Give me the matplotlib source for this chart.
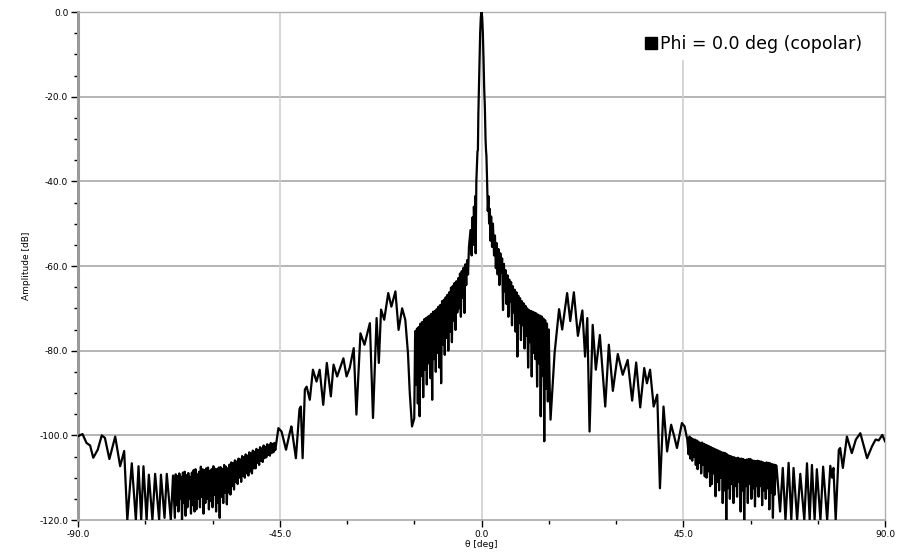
import numpy as np
import matplotlib
matplotlib.use("Agg")
import matplotlib.pyplot as plt
from matplotlib.lines import Line2D
from matplotlib.patches import Rectangle
from matplotlib.ticker import MultipleLocator, FormatStrFormatter

# far sidelobes, theta < -68 deg
theta_far_left = [-90.0, -89.8, -89.0, -88.1, -87.3, -86.6, -85.6, -84.7, -84.0, -83.0,
                  -81.7, -80.6, -79.7, -79.0, -78.0, -77.1, -76.5, -75.9, -75.4, -74.7,
                  -74.2, -73.4, -72.8, -71.9, -71.5, -70.7, -70.2, -69.3, -68.8]
amp_far_left = [-100.2, -100.1, -99.7, -101.8, -102.4, -105.3, -103.4, -100.0, -100.6, -105.6,
                -100.3, -107.3, -103.7, -120.0, -106.6, -120.0, -107.3, -120.0, -107.3, -120.0,
                -109.3, -120.0, -109.1, -120.0, -109.3, -119.5, -109.1, -120.0, -109.5]

# dense ripple, -68.4 .. -46.0 deg in 0.2 deg steps
amp_dense_left = [
    -119.5, -109.2, -116.5, -109.6, -118.0, -109.0, -115.0, -109.8, -120.0, -108.8,
    -116.0, -108.6, -119.0, -109.4, -117.0, -108.9, -115.0, -109.8, -118.5, -108.8,
    -116.5, -108.2, -118.0, -108.0, -117.5, -109.2, -115.0, -108.6, -117.0, -107.4,
    -114.5, -108.0, -118.5, -108.2, -116.0, -107.8, -115.0, -107.6, -117.5, -108.4,
    -115.5, -108.0, -117.0, -107.3, -114.0, -107.9, -118.0, -108.0, -116.0, -107.6,
    -119.5, -107.5, -114.5, -107.9, -116.0, -107.0, -113.5, -107.4, -116.3, -107.8,
    -113.5, -106.9, -114.0, -106.4, -112.0, -106.6, -112.8, -105.9, -111.0, -106.2,
    -111.5, -105.5, -110.0, -105.7, -111.0, -104.9, -109.5, -105.2, -110.0, -104.5,
    -109.0, -104.8, -109.5, -104.0, -108.5, -104.3, -109.0, -103.6, -107.8, -103.9,
    -107.8, -103.2, -106.5, -103.5, -107.0, -102.8, -106.0, -103.1, -106.3, -102.4,
    -105.4, -102.7, -105.2, -102.1, -104.6, -102.4, -104.8, -101.8, -104.2, -102.0,
    -104.0, -101.8, -103.5]
theta_dense_left = np.linspace(-68.4, -46.0, len(amp_dense_left))

# distinct lobes, -45 .. -15.5 deg
theta_lobes_left = [-45.3, -44.6, -43.6, -42.7, -42.4, -41.4, -40.6, -40.3, -39.9, -39.4,
                    -39.0, -38.3, -37.6, -36.8, -36.1, -35.3, -34.5, -33.6, -33.0, -32.2,
                    -30.8, -30.1, -29.4, -28.5, -27.9, -27.0, -26.1, -24.9, -24.2, -23.4,
                    -22.9, -22.4, -21.7, -20.8, -20.1, -19.2, -18.5, -17.7, -17.0, -16.4,
                    -16.0, -15.5]
amp_lobes_left = [-98.3, -99.1, -103.4, -99.1, -97.9, -105.4, -93.8, -93.2, -105.4, -89.2,
                  -88.5, -91.6, -84.5, -87.3, -84.5, -92.8, -82.9, -90.8, -83.3, -86.1,
                  -81.8, -86.1, -84.1, -79.4, -95.1, -75.9, -78.6, -73.5, -95.9, -72.3,
                  -82.9, -70.3, -72.7, -66.4, -69.6, -66.0, -75.1, -70.0, -72.7, -80.6,
                  -90.0, -97.9]

# shoulder next to the main beam, -15.0 .. -2.8 deg in 0.2 deg steps
amp_shoulder_left = [
    -96.0, -75.4, -88.0, -74.8, -92.5, -74.4, -95.5, -73.6, -86.0, -73.2,
    -91.0, -72.6, -84.5, -72.3, -88.0, -72.0, -83.0, -71.7, -86.5, -71.3,
    -91.6, -70.8, -82.0, -70.6, -85.0, -70.2, -80.5, -69.6, -84.0, -69.2,
    -87.7, -68.3, -78.5, -68.0, -81.0, -67.4, -77.0, -66.8, -80.0, -66.2,
    -75.5, -65.1, -78.0, -64.7, -73.0, -64.0, -75.1, -63.6, -71.0, -62.9,
    -70.0, -61.8, -72.0, -61.2, -67.5, -60.4, -71.1, -59.6, -64.5, -58.6,
    -62.0, -55.5]
theta_shoulder_left = np.linspace(-15.0, -2.8, len(amp_shoulder_left))

# main beam
theta_main = [-2.45, -2.2, -2.0, -1.8, -1.7, -1.5, -1.4, -1.3, -1.15, -1.0,
              -0.9, -0.8, -0.7, -0.6, -0.45, -0.3, -0.15, 0.0, 0.15, 0.3,
              0.45, 0.6, 0.75, 0.9, 1.0, 1.1, 1.25, 1.4, 1.55, 1.7,
              1.85, 2.0, 2.15, 2.35, 2.55]
amp_main = [-51.5, -57.5, -48.5, -55.0, -46.0, -52.0, -43.5, -57.0, -40.0, -36.0,
            -33.0, -32.6, -24.0, -19.0, -11.0, -5.0, -1.2, 0.0, -1.2, -5.0,
            -11.0, -18.0, -22.5, -30.0, -32.6, -34.0, -40.0, -47.0, -43.5, -50.0,
            -46.5, -54.0, -48.3, -55.5, -50.0]

# shoulder, 2.8 .. 15.4 deg in 0.2 deg steps
amp_shoulder_right = [
    -57.5, -52.8, -60.5, -54.6, -62.0, -56.0, -64.5, -57.0, -61.5, -58.2,
    -70.4, -59.5, -66.0, -61.0, -69.0, -62.2, -72.0, -63.2, -68.5, -63.8,
    -74.0, -64.8, -71.0, -65.6, -75.5, -66.2, -81.4, -67.0, -73.5, -67.6,
    -77.5, -68.3, -74.0, -68.8, -79.5, -69.4, -76.5, -70.0, -84.0, -70.4,
    -78.0, -70.6, -86.1, -70.8, -80.5, -71.0, -82.0, -71.2, -88.5, -71.5,
    -83.0, -71.7, -95.5, -71.9, -86.0, -72.4, -101.4, -72.8, -89.0, -73.6,
    -92.0, -75.0, -88.0, -96.3]
theta_shoulder_right = np.linspace(2.8, 15.4, len(amp_shoulder_right))

# distinct lobes, 16 .. 46 deg
theta_lobes_right = [16.3, 17.3, 18.0, 19.1, 19.8, 20.6, 21.5, 22.5, 23.1, 23.6,
                     24.1, 24.8, 25.5, 26.4, 27.6, 28.4, 29.3, 30.4, 31.5, 32.6,
                     33.6, 34.5, 35.4, 36.3, 36.9, 37.6, 38.4, 39.2, 39.8, 40.6,
                     41.4, 42.3, 43.0, 43.6, 44.7, 45.3, 45.9]
amp_lobes_right = [-80.6, -70.2, -75.0, -66.4, -73.0, -66.2, -76.5, -70.5, -81.4, -72.3,
                   -99.1, -73.9, -84.5, -76.3, -93.2, -78.6, -89.5, -80.8, -85.7, -82.2,
                   -91.8, -82.8, -93.4, -84.1, -87.7, -84.5, -93.2, -90.4, -112.5, -93.2,
                   -103.8, -97.5, -100.3, -103.0, -97.1, -97.9, -101.0]

# dense ripple, 46.2 .. 65.8 deg in 0.2 deg steps
amp_dense_right = [
    -104.5, -100.3, -105.5, -100.6, -106.0, -100.9, -105.0, -101.0, -107.0, -101.2,
    -108.0, -101.5, -106.5, -101.8, -109.0, -101.7, -107.0, -102.0, -109.7, -102.2,
    -110.0, -102.4, -108.5, -102.6, -112.0, -102.8, -111.5, -103.0, -109.0, -103.2,
    -114.4, -103.4, -111.0, -103.6, -113.0, -103.8, -110.0, -104.0, -116.0, -104.1,
    -113.0, -104.2, -120.0, -104.5, -112.5, -104.8, -115.0, -104.9, -111.5, -105.1,
    -116.0, -105.2, -112.0, -105.4, -114.5, -105.3, -111.0, -105.5, -118.0, -105.5,
    -113.0, -105.6, -120.0, -105.8, -112.0, -105.7, -116.0, -105.6, -111.5, -105.6,
    -115.0, -105.9, -112.5, -106.0, -116.8, -106.1, -112.0, -106.0, -114.5, -106.1,
    -112.0, -106.2, -116.5, -106.4, -113.0, -106.5, -115.0, -106.4, -112.5, -106.5,
    -117.5, -106.6, -113.5, -106.8, -119.5, -106.9, -114.0, -107.0, -107.2]
theta_dense_right = np.linspace(46.2, 65.8, len(amp_dense_right))

# far sidelobes, theta > 66 deg
theta_far_right = [66.6, 67.2, 67.8, 68.5, 69.1, 69.6, 70.4, 71.1, 72.0, 72.6,
                   73.2, 73.7, 74.3, 74.8, 75.6, 76.2, 77.1, 77.8, 78.2, 78.5,
                   79.0, 79.7, 80.0, 80.6, 81.5, 82.6, 83.5, 84.5, 86.0, 87.1,
                   87.9, 88.6, 89.4, 90.0]
amp_far_right = [-118.0, -107.7, -120.0, -106.5, -120.0, -107.7, -120.0, -109.1, -120.0, -106.6,
                 -120.0, -107.0, -120.0, -108.0, -120.0, -107.4, -120.0, -107.2, -110.0, -107.7,
                 -120.0, -103.4, -103.0, -107.7, -100.3, -104.2, -101.0, -99.5, -105.4, -102.6,
                 -101.0, -101.2, -99.9, -101.4]

theta = np.concatenate([theta_far_left, theta_dense_left, theta_lobes_left, theta_shoulder_left,
                        theta_main, theta_shoulder_right, theta_lobes_right, theta_dense_right,
                        theta_far_right])
amp = np.concatenate([amp_far_left, amp_dense_left, amp_lobes_left, amp_shoulder_left,
                      amp_main, amp_shoulder_right, amp_lobes_right, amp_dense_right,
                      amp_far_right])

fig = plt.figure(figsize=(9.05, 5.6), dpi=100)
ax = fig.add_axes([78 / 905, 1 - 520 / 560, 807 / 905, 508 / 560])

ax.plot(theta, amp, color="black", lw=1.6, zorder=3)

ax.set_xlim(-90, 90)
ax.set_ylim(-120, 0)
ax.xaxis.set_major_locator(MultipleLocator(45))
ax.xaxis.set_minor_locator(MultipleLocator(15))
ax.yaxis.set_major_locator(MultipleLocator(20))
ax.yaxis.set_minor_locator(MultipleLocator(5))
ax.xaxis.set_major_formatter(FormatStrFormatter("%.1f"))
ax.yaxis.set_major_formatter(FormatStrFormatter("%.1f"))
ax.tick_params(which="major", length=5, width=1, labelsize=6.5, color="black", pad=2)
ax.tick_params(which="minor", length=3, width=1, color="black")

for v in range(-100, 1, 20):
    ax.axhline(v, color="#a8a8a8", lw=1.2, zorder=1)
for v in (-45, 0, 45):
    ax.axvline(v, color="#cfcfcf", lw=1.2, zorder=1)

ax.spines["left"].set_color("#9a9a9a")
ax.spines["left"].set_linewidth(2.2)
ax.spines["bottom"].set_color("#a8a8a8")
ax.spines["bottom"].set_linewidth(1.2)
ax.spines["top"].set_color("#b0b0b0")
ax.spines["top"].set_linewidth(1.0)
ax.spines["right"].set_color("#b0b0b0")
ax.spines["right"].set_linewidth(1.0)

ax.set_xlabel("θ [deg]", fontsize=6.5, labelpad=1)
ax.set_ylabel("Amplitude [dB]", fontsize=6.5, labelpad=6)

# legend area blanks out the grid behind it
ax.add_patch(Rectangle((0.678, 0.905), 0.322, 0.1, transform=ax.transAxes,
                       facecolor="white", edgecolor="none", zorder=2, clip_on=False))
handle = Line2D([], [], marker="s", color="black", linestyle="none", markersize=9)
ax.legend([handle], ["Phi = 0.0 deg (copolar)"], loc="upper right", frameon=False,
          fontsize=12.5, handletextpad=0.1, borderpad=0.6, handlelength=0.8,
          bbox_to_anchor=(0.995, 0.993))

fig.savefig("out.png", dpi=100)
